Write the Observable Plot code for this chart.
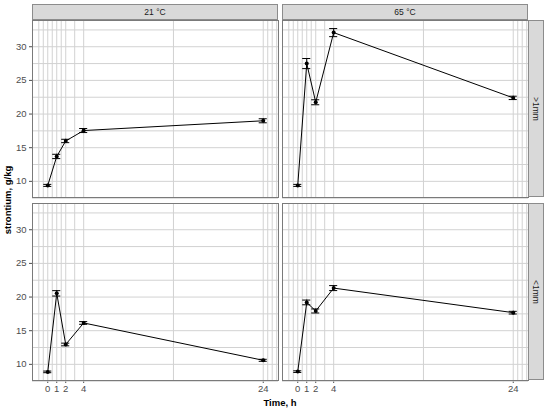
<!DOCTYPE html>
<html><head><meta charset="utf-8">
<script src="https://cdn.jsdelivr.net/npm/d3@7"></script>
<script src="https://cdn.jsdelivr.net/npm/@observablehq/plot@0.6"></script>
<style>
body{margin:0;background:#fff;font-family:"Liberation Sans",Arial,sans-serif;}
#root{position:relative;width:550px;height:410px;overflow:hidden;}
.p{position:absolute;}
.p svg{overflow:visible;display:block;max-width:none;}
.strip{position:absolute;background:#d9d9d9;border:1px solid #8c8c8c;box-sizing:border-box;color:#1a1a1a;font-size:8.5px;display:flex;align-items:center;justify-content:center;}
.strip span{white-space:nowrap;}
.strip.v span{transform:rotate(90deg);}
.title{position:absolute;font-weight:bold;font-size:9.5px;white-space:nowrap;color:#000;}
</style></head>
<body><div id="root"></div>
<script>
const temps = ["21 °C", "65 °C"];
const sizes = [">1mm", "<1mm"];
const hours = [0, 1, 2, 4, 24];
const sr_21_gt = [9.4, 13.7, 16.0, 17.55, 19.0];
const err_21_gt = [0.15, 0.32, 0.25, 0.3, 0.3];
const sr_65_gt = [9.4, 27.5, 21.75, 32.1, 22.4];
const err_65_gt = [0.15, 0.75, 0.37, 0.6, 0.25];
const sr_21_lt = [8.88, 20.55, 12.95, 16.15, 10.6];
const err_21_lt = [0.12, 0.4, 0.2, 0.2, 0.15];
const sr_65_lt = [8.92, 19.2, 17.93, 21.33, 17.68];
const err_65_lt = [0.12, 0.35, 0.3, 0.37, 0.2];
const yTicks = [10, 15, 20, 25, 30];
const yGrid = [7.5, 10, 12.5, 15, 17.5, 20, 22.5, 25, 27.5, 30, 32.5];
const xGrid = [-1, -0.5, 0, 0.5, 1, 1.5, 2, 3, 4, 14, 24, 24.5, 25, 25.5];
const yLabel = "strontium, g/kg";
const xLabel = "Time, h";

const root = document.getElementById("root");

function panel(vals, errs, left, bottom) {
  const rows = hours.map((h, i) => ({h, v: vals[i], lo: vals[i] - errs[i], hi: vals[i] + errs[i]}));
  return Plot.plot({
    width: left ? 278 : 246,
    height: bottom ? 192 : 177,
    marginLeft: left ? 32 : 0, marginRight: 0, marginTop: 0, marginBottom: bottom ? 15 : 0,
    x: {domain: [-1.7, 25.7], ticks: hours, axis: bottom ? "bottom" : null, label: null, tickSize: 3, tickPadding: 2},
    y: {domain: [7.6, 33.9], ticks: yTicks, axis: left ? "left" : null, label: null, tickSize: 3, tickPadding: 3},
    style: {fontFamily: "'Liberation Sans', Arial, sans-serif", fontSize: "9.5px", color: "#4d4d4d", background: "transparent"},
    marks: [
      Plot.ruleX(xGrid, {stroke: "#d2d2d2", strokeWidth: 1}),
      Plot.ruleY(yGrid, {stroke: "#d2d2d2", strokeWidth: 1}),
      Plot.frame({stroke: "#7a7a7a"}),
      Plot.line(rows, {x: "h", y: "v", stroke: "#000", strokeWidth: 1}),
      Plot.ruleX(rows, {x: "h", y1: "lo", y2: "hi", stroke: "#000"}),
      Plot.ruleY(rows, {y: "lo", x1: d => d.h - 0.45, x2: d => d.h + 0.45, stroke: "#000"}),
      Plot.ruleY(rows, {y: "hi", x1: d => d.h - 0.45, x2: d => d.h + 0.45, stroke: "#000"}),
      Plot.dot(rows, {x: "h", y: "v", r: 2, fill: "#000", stroke: "none"})
    ]
  });
}

function place(el, left, top) {
  const d = document.createElement("div");
  d.className = "p";
  d.style.left = left + "px";
  d.style.top = top + "px";
  d.appendChild(el);
  root.appendChild(d);
}

place(panel(sr_21_gt, err_21_gt, true, false), 0, 20);
place(panel(sr_65_gt, err_65_gt, false, false), 282, 20);
place(panel(sr_21_lt, err_21_lt, true, true), 0, 203);
place(panel(sr_65_lt, err_65_lt, false, true), 282, 203);

function strip(text, left, top, w, h, vertical) {
  const d = document.createElement("div");
  d.className = "strip" + (vertical ? " v" : "");
  Object.assign(d.style, {left: left + "px", top: top + "px", width: w + "px", height: h + "px"});
  const s = document.createElement("span");
  s.textContent = text;
  d.appendChild(s);
  root.appendChild(d);
}
strip(temps[0], 32, 4, 246, 16, false);
strip(temps[1], 282, 4, 246, 16, false);
strip(sizes[0], 528, 20, 16, 177, true);
strip(sizes[1], 528, 203, 16, 177, true);

const yl = document.createElement("div");
yl.className = "title";
yl.textContent = yLabel;
Object.assign(yl.style, {left: "7px", top: "200px", transform: "translate(-50%,-50%) rotate(-90deg)"});
root.appendChild(yl);
const xl = document.createElement("div");
xl.className = "title";
xl.textContent = xLabel;
Object.assign(xl.style, {left: "280px", top: "402px", transform: "translate(-50%,-50%)"});
root.appendChild(xl);
</script>
</body></html>
